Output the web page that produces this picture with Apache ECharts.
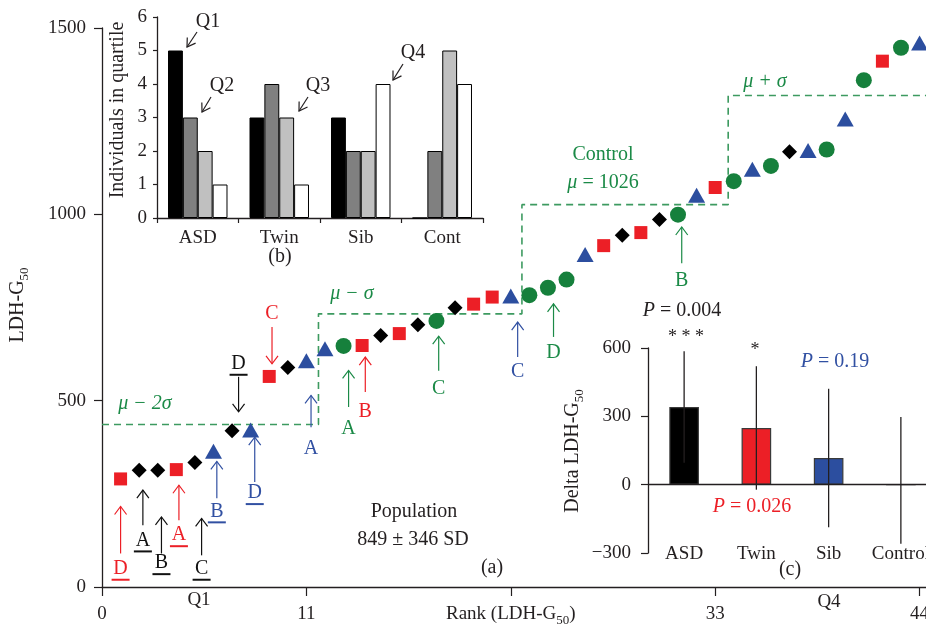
<!DOCTYPE html>
<html><head><meta charset="utf-8">
<script src="https://cdn.jsdelivr.net/npm/echarts@6/dist/echarts.min.js"></script>
<style>html,body{margin:0;padding:0;background:#fff}#c{width:926px;height:625px}</style>
</head><body><div id="c"></div>
<script>
// ---------------- data ----------------
// (a) LDH-G50 by rank, with group code for each rank
const rankValues = [290, 313, 313, 315, 334, 364, 419, 421, 565, 589, 607, 639, 647, 648, 675, 680, 704, 714, 749, 759, 778, 781, 783, 803, 825, 892, 916, 944, 951, 986, 999, 1051, 1072, 1089, 1121, 1130, 1168, 1171, 1174, 1256, 1360, 1411, 1447, 1460];
const rankGroups = ['T','A','A','T','A','S','A','S','T','A','S','S','C','T','A','T','A','C','A','T','T','S','C','C','C','S','T','A','T','A','C','S','T','C','S','C','A','S','C','S','C','T','C','S'];
// Control mean and SD steps: mu-2s, mu-s, mu, mu+s and the ranks where the steps change
const controlLevels = [436, 733, 1026, 1319];
const levelBreaks = [0, 11.65, 22.6, 33.7, 44.4];
// annotated arrows: [rank, tip value, tail value, label value, group, letter, underlined]
const rankArrows = [
  [1.0, 216, 90, 49, 'T', 'D', 1],
  [2.2, 260, 166, 125, 'A', 'A', 1],
  [3.2, 188, 90, 64, 'A', 'B', 1],
  [4.14, 273, 179, 139, 'T', 'A', 1],
  [5.36, 184, 85, 49, 'A', 'C', 1],
  [6.18, 337, 238, 203, 'S', 'B', 1],
  [8.22, 402, 282, 252, 'S', 'D', 1],
  [11.25, 514, 429, 371, 'S', 'A', 0],
  [13.27, 581, 483, 425, 'C', 'A', 0],
  [14.17, 617, 523, 471, 'T', 'B', 0],
  [18.12, 673, 580, 532, 'C', 'C', 0],
  [22.37, 711, 617, 577, 'S', 'C', 0],
  [24.3, 760, 671, 628, 'C', 'D', 0],
  [31.2, 966, 869, 823, 'C', 'B', 0],
  [7.35, 470, 564, 599, 'A', 'D', 1],
  [9.15, 599, 698, 734, 'T', 'C', 0]
];
const rankTicks = [0, 11, 22, 33, 44];

// (b) individuals in quartile
const quartileCategories = ['ASD', 'Twin', 'Sib', 'Cont'];
const quartileQ1 = [5, 3, 3, 0];
const quartileQ2 = [3, 4, 2, 2];
const quartileQ3 = [2, 3, 2, 5];
const quartileQ4 = [1, 1, 4, 4];

// (c) delta LDH-G50
const deltaCategories = ['ASD', 'Twin', 'Sib', 'Control'];
const deltaMeans = [341, 249, 117, 0];
const deltaErrLow = [96, -22, -187, -259];
const deltaErrHigh = [586, 520, 421, 297];

// ---------------- styling ----------------
const FONT = '"Liberation Serif", "Times New Roman", serif';
const INK = '#231f20';
const groupColor = {A: '#000000', T: '#ec1f26', S: '#2c4e9f', C: '#16803c'};
const textColor = {A: '#111111', T: '#ec1f26', S: '#3150a2', C: '#1b8a47'};
const DASH = '#3d9a60';

function scatterData(g) {
  const out = [];
  rankValues.forEach((v, i) => { if (rankGroups[i] === g) out.push([i + 1, v]); });
  return out;
}
const stepLine = [];
controlLevels.forEach((lv, i) => { stepLine.push([levelBreaks[i], lv]); stepLine.push([levelBreaks[i + 1], lv]); });

const subRich = {
  sub: {fontSize: 13, fontFamily: FONT, verticalAlign: 'bottom', lineHeight: 12},
  i: {fontStyle: 'italic', fontSize: 20, fontFamily: FONT}
};

function T(x, y, text, opt) {
  opt = opt || {};
  return {
    type: 'text', x: x, y: y, rotation: opt.rotation || 0, z: 50, silent: true,
    style: Object.assign({
      text: text, fill: opt.color || INK, fontSize: opt.size || 20, fontFamily: FONT,
      fontStyle: opt.italic ? 'italic' : 'normal',
      align: 'center', verticalAlign: 'middle'
    }, opt.rich ? {rich: opt.rich} : {}, opt.lineHeight ? {lineHeight: opt.lineHeight} : {})
  };
}
function arrowG(x1, y1, x2, y2, color) {
  const dx = x2 - x1, dy = y2 - y1, L = Math.sqrt(dx * dx + dy * dy);
  const ux = dx / L, uy = dy / L, h = 8, w = 5;
  const bx = x2 - ux * h, by = y2 - uy * h;
  return [
    {type: 'line', z: 50, silent: true, shape: {x1: x1, y1: y1, x2: x2, y2: y2}, style: {stroke: color, lineWidth: 1.2}},
    {type: 'polyline', z: 50, silent: true, shape: {points: [[bx - uy * w, by + ux * w], [x2, y2], [bx + uy * w, by - ux * w]]}, style: {stroke: color, fill: null, lineWidth: 1.2}}
  ];
}

const chart = echarts.init(document.getElementById('c'));

const graphics = [
  // main chart texts
  T(18, 305, 'LDH-G{sub|50}', {rotation: Math.PI / 2, rich: subRich, lineHeight: 26}),
  T(199, 600, 'Q1', {size: 19}),
  T(829, 602, 'Q4', {size: 19}),
  T(145, 404, 'μ − 2σ', {color: textColor.C, italic: true}),
  T(352, 294, 'μ − σ', {color: textColor.C, italic: true}),
  T(603, 155, 'Control', {color: textColor.C}),
  T(603, 183, '{i|μ} = 1026', {color: textColor.C, rich: {i: {fontStyle: 'italic', fontSize: 20, fontFamily: FONT, fill: textColor.C}}}),
  T(765, 82, 'μ + σ', {color: textColor.C, italic: true}),
  T(414, 512, 'Population'),
  T(413, 540, '849 ± 346 SD'),
  T(492, 568, '(a)'),
  // inset (b)
  T(118, 110, 'Individuals in quartile', {rotation: Math.PI / 2}),
  T(208, 22, 'Q1'), T(222, 86, 'Q2'), T(318, 86, 'Q3'), T(413, 53, 'Q4'),
  T(280, 257, '(b)'),
  // inset (c)
  T(573, 451, 'Delta LDH-G{sub|50}', {rotation: Math.PI / 2, rich: subRich, lineHeight: 26}),
  T(682, 311, '{i|P} = 0.004', {rich: {i: {fontStyle: 'italic', fontSize: 20, fontFamily: FONT, fill: INK}}}),
  T(686, 337, '* * *', {size: 18}),
  T(755, 350, '*', {size: 18}),
  T(835, 362, '{i|P} = 0.19', {color: textColor.S, rich: {i: {fontStyle: 'italic', fontSize: 20, fontFamily: FONT, fill: textColor.S}}}),
  T(752, 507, '{i|P} = 0.026', {color: textColor.T, rich: {i: {fontStyle: 'italic', fontSize: 20, fontFamily: FONT, fill: textColor.T}}}),
  T(790, 570, '(c)')
].concat(
  arrowG(197, 32, 187, 47, INK),
  arrowG(211, 97, 202, 112, INK),
  arrowG(308, 97, 299, 111, INK),
  arrowG(403, 64, 393, 80, INK)
);

function axisCommon(extra) {
  return Object.assign({
    axisLine: {show: true, onZero: false, lineStyle: {color: INK, width: 1.3}},
    axisTick: {show: true, inside: false, lineStyle: {color: INK, width: 1.2}},
    splitLine: {show: false},
    axisLabel: {color: INK, fontSize: 19, fontFamily: FONT}
  }, extra);
}

const option = {
  animation: false,
  backgroundColor: '#ffffff',
  grid: [
    {left: 102, top: 28, width: 825, height: 559, outerBoundsMode: 'none', containLabel: false},
    {left: 157, top: 17, width: 326, height: 201, outerBoundsMode: 'none', containLabel: false},
    {left: 648, top: 348, width: 289, height: 205, outerBoundsMode: 'none', containLabel: false}
  ],
  xAxis: [
    axisCommon({gridIndex: 0, type: 'value', min: 0, max: 44.4, interval: 11,
      axisTick: {show: true, length: 9, lineStyle: {color: INK, width: 1.2}},
      axisLabel: {color: INK, fontSize: 19, fontFamily: FONT, margin: 14, lineHeight: 26, showMaxLabel: false,
        formatter: function (v) { if (rankTicks.indexOf(v) < 0) return ''; return v === 22 ? 'Rank (LDH-G{sub|50})' : String(v); },
        rich: {sub: {fontSize: 13, fontFamily: FONT, verticalAlign: 'bottom', lineHeight: 12, color: INK}}}}),
    axisCommon({gridIndex: 1, type: 'category', data: quartileCategories, boundaryGap: true,
      axisTick: {show: true, length: 5, alignWithLabel: false, interval: 0, lineStyle: {color: INK, width: 1.2}},
      axisLabel: {color: INK, fontSize: 19, fontFamily: FONT, margin: 11, interval: 0}}),
    axisCommon({gridIndex: 2, type: 'category', data: deltaCategories, boundaryGap: true,
      axisLine: {show: false, onZero: false}, axisTick: {show: false},
      axisLabel: {color: INK, fontSize: 19, fontFamily: FONT, margin: -8, interval: 0}})
  ],
  yAxis: [
    axisCommon({gridIndex: 0, type: 'value', min: 0, max: 1500, interval: 500,
      axisTick: {show: true, length: 8, lineStyle: {color: INK, width: 1.2}},
      axisLabel: {color: INK, fontSize: 19, fontFamily: FONT, margin: 16,
        formatter: function (v) { return String(v); }}}),
    axisCommon({gridIndex: 1, type: 'value', min: 0, max: 6, interval: 1,
      axisTick: {show: true, length: 4, lineStyle: {color: INK, width: 1.2}},
      axisLabel: {color: INK, fontSize: 19, fontFamily: FONT, margin: 10}}),
    axisCommon({gridIndex: 2, type: 'value', min: -300, max: 600, interval: 300,
      axisTick: {show: true, length: 7, lineStyle: {color: INK, width: 1.2}},
      axisLabel: {color: INK, fontSize: 19, fontFamily: FONT, margin: 17,
        formatter: function (v) { return v < 0 ? '\u2212' + Math.abs(v) : String(v); }}})
  ],
  series: [
    {type: 'line', xAxisIndex: 0, yAxisIndex: 0, data: stepLine, symbol: 'none', silent: true, z: 2,
      lineStyle: {color: DASH, width: 1.6, type: [7, 5]}},
    {type: 'scatter', name: 'ASD', xAxisIndex: 0, yAxisIndex: 0, data: scatterData('A'), symbol: 'diamond', symbolSize: 15, itemStyle: {color: groupColor.A, opacity: 1}, z: 5},
    {type: 'scatter', name: 'Twin', xAxisIndex: 0, yAxisIndex: 0, data: scatterData('T'), symbol: 'rect', symbolSize: 13, itemStyle: {color: groupColor.T, opacity: 1}, z: 5},
    {type: 'scatter', name: 'Sib', xAxisIndex: 0, yAxisIndex: 0, data: scatterData('S'), symbol: 'triangle', symbolSize: [17, 15], itemStyle: {color: groupColor.S, opacity: 1}, z: 5},
    {type: 'scatter', name: 'Control', xAxisIndex: 0, yAxisIndex: 0, data: scatterData('C'), symbol: 'circle', symbolSize: 16, itemStyle: {color: groupColor.C, opacity: 1}, z: 5},
    {type: 'custom', xAxisIndex: 0, yAxisIndex: 0, silent: true, z: 6, clip: false,
      data: rankArrows.map(a => [a[0], a[1]]),
      renderItem: function (params, api) {
        const a = rankArrows[params.dataIndex];
        const tip = api.coord([a[0], a[1]]);
        const tail = api.coord([a[0], a[2]]);
        const lab = api.coord([a[0], a[3]]);
        const col = textColor[a[4]];
        const dir = tip[1] < tail[1] ? 1 : -1;
        const ch = [
          {type: 'line', shape: {x1: tail[0], y1: tail[1], x2: tip[0], y2: tip[1]}, style: {stroke: col, lineWidth: 1.2}},
          {type: 'polyline', shape: {points: [[tip[0] - 6, tip[1] + dir * 8], [tip[0], tip[1]], [tip[0] + 6, tip[1] + dir * 8]]}, style: {stroke: col, fill: null, lineWidth: 1.2}},
          {type: 'text', x: lab[0], y: lab[1], style: {text: a[5], fill: col, fontSize: 20, fontFamily: FONT, align: 'center', verticalAlign: 'middle'}}
        ];
        if (a[6]) ch.push({type: 'line', shape: {x1: lab[0] - 9, y1: lab[1] + 11, x2: lab[0] + 9, y2: lab[1] + 11}, style: {stroke: col, lineWidth: 2}});
        return {type: 'group', children: ch};
      }},
    // inset (b)
    {type: 'bar', name: 'Q1', xAxisIndex: 1, yAxisIndex: 1, data: quartileQ1, barGap: '0%', barCategoryGap: '27%', itemStyle: {color: '#000000', borderColor: '#000', borderWidth: 1}},
    {type: 'bar', name: 'Q2', xAxisIndex: 1, yAxisIndex: 1, data: quartileQ2, barGap: '0%', barCategoryGap: '27%', itemStyle: {color: '#808080', borderColor: '#000', borderWidth: 1}},
    {type: 'bar', name: 'Q3', xAxisIndex: 1, yAxisIndex: 1, data: quartileQ3, barGap: '0%', barCategoryGap: '27%', itemStyle: {color: '#c0c0c0', borderColor: '#000', borderWidth: 1}},
    {type: 'bar', name: 'Q4', xAxisIndex: 1, yAxisIndex: 1, data: quartileQ4, barGap: '0%', barCategoryGap: '27%', itemStyle: {color: '#ffffff', borderColor: '#000', borderWidth: 1}},
    // inset (c)
    {type: 'bar', xAxisIndex: 2, yAxisIndex: 2, barWidth: '41%', z: 3,
      data: deltaMeans.map((v, i) => ({value: v, itemStyle: {color: [groupColor.A, groupColor.T, groupColor.S, groupColor.C][i], borderColor: '#3a3a3a', borderWidth: 1.2}})),
      markLine: {silent: true, symbol: 'none', label: {show: false}, lineStyle: {color: INK, width: 1.3, type: 'solid'}, data: [{yAxis: 0}]}},
    {type: 'custom', xAxisIndex: 2, yAxisIndex: 2, silent: true, z: 8, clip: false,
      data: deltaCategories.map((c, i) => [i, deltaErrLow[i], deltaErrHigh[i]]),
      renderItem: function (params, api) {
        const p1 = api.coord([api.value(0), api.value(1)]);
        const p2 = api.coord([api.value(0), api.value(2)]);
        return {type: 'line', shape: {x1: p1[0], y1: p1[1], x2: p2[0], y2: p2[1]}, style: {stroke: INK, lineWidth: 1.3}};
      }}
  ],
  graphic: graphics
};
chart.setOption(option);
</script></body></html>
